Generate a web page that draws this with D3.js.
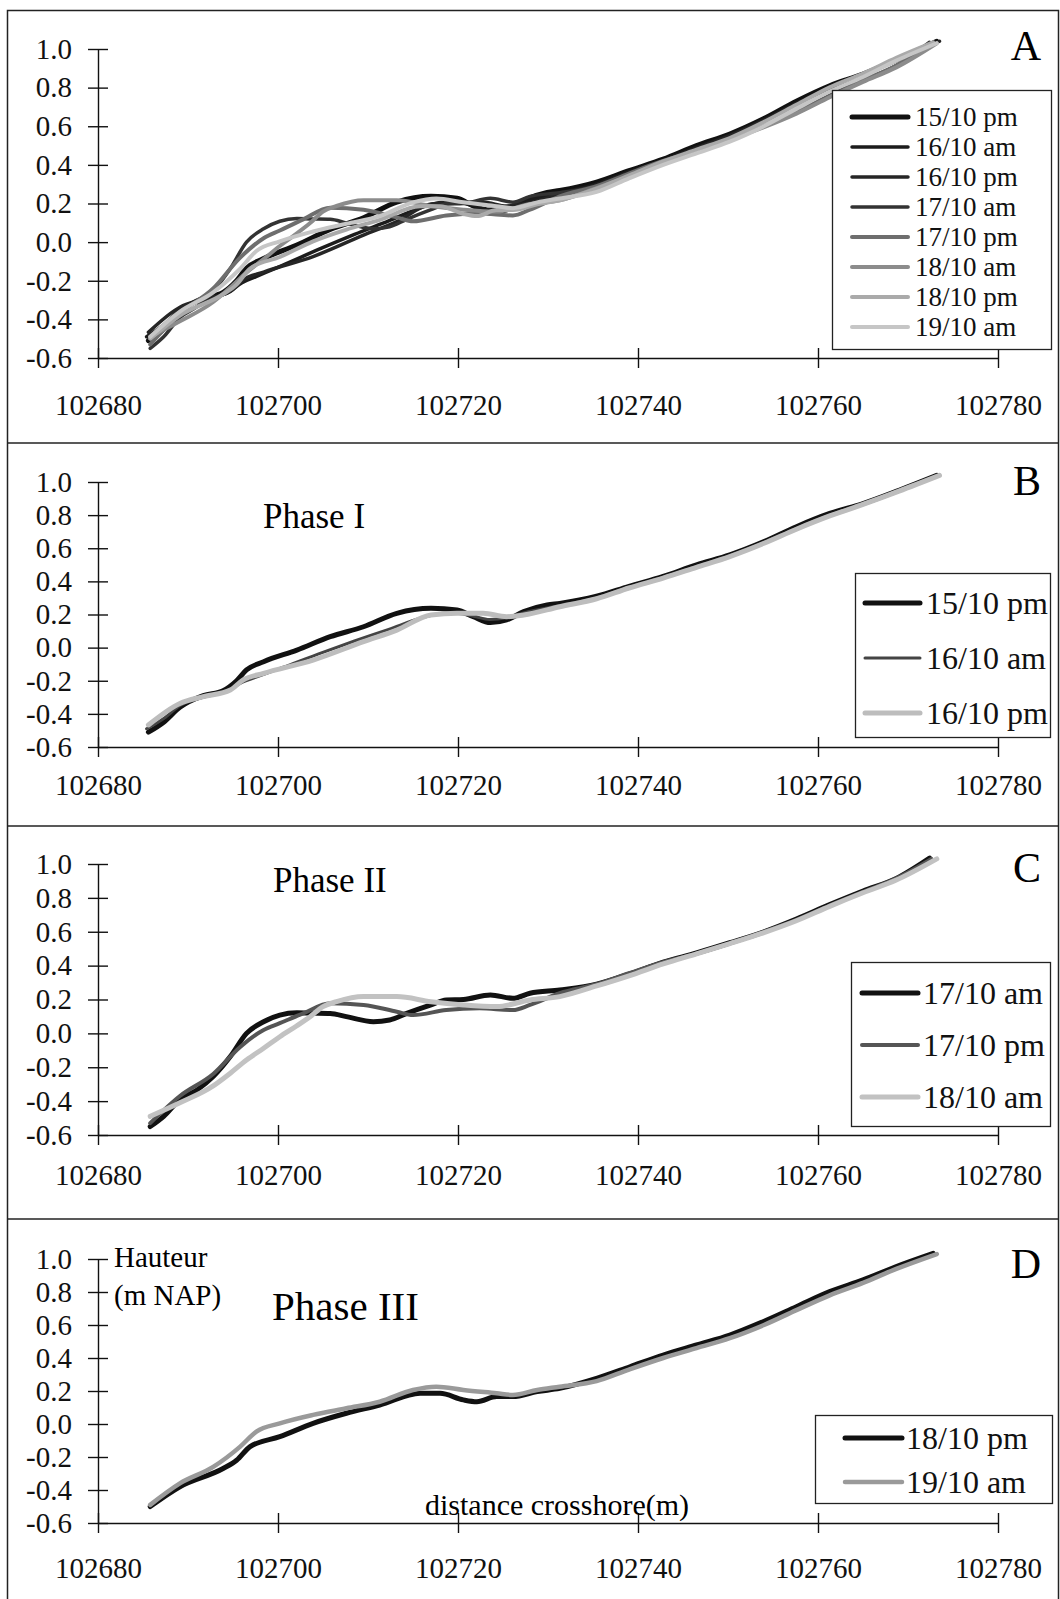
<!DOCTYPE html>
<html>
<head>
<meta charset="utf-8">
<script src="https://cdn.jsdelivr.net/npm/d3@7"></script>
<style>
  body { margin: 0; background: #fff; }
  svg { display: block; font-family: "Liberation Serif", "Times New Roman", serif; }
  .axis path, .axis line { stroke: #111; stroke-width: 1.4px; }
  .axis text { fill: #111; font-size: 29px; font-family: "Liberation Serif", serif; }
  .legend text { fill: #111; }
</style>
</head>
<body>
<script>
var width = 1060,
    height = 1599;

// tick values
var xTicks = [102680, 102700, 102720, 102740, 102760, 102780];
var yTicks = [-0.6, -0.4, -0.2, 0.0, 0.2, 0.4, 0.6, 0.8, 1.0];

// profiles: [distance crosshore (m), hauteur (m NAP)]
var p15pm = [[102685.6,-0.51],[102687.3,-0.45],[102689.1,-0.36],[102691.7,-0.29],[102693.9,-0.26],[102695.4,-0.20],
  [102696.5,-0.135],[102698.4,-0.085],[102702.1,-0.015],[102705.8,0.066],[102709.5,0.126],[102713.2,0.207],
  [102717,0.237],[102719.9,0.227],[102721.7,0.187],[102723.6,0.151],[102725.4,0.167],[102727.3,0.217],
  [102729.9,0.257],[102731.3,0.267],[102735.4,0.31],[102739,0.37],[102742.8,0.43],[102746.5,0.50],
  [102750.2,0.56],[102754,0.64],[102757.6,0.73],[102761.3,0.81],[102765,0.87],[102769,0.95],[102773.2,1.04]];

var p16am = [[102685.4,-0.49],[102687.5,-0.42],[102689.1,-0.35],[102691.7,-0.30],[102694.5,-0.26],[102696,-0.21],
  [102697.5,-0.18],[102700.5,-0.12],[102704.9,-0.03],[102708.5,0.04],[102712.3,0.11],[102716,0.18],
  [102719,0.21],[102721.7,0.19],[102723.5,0.17],[102725.4,0.18],[102727.3,0.21],[102731.3,0.255],
  [102735.4,0.30],[102739,0.365],[102742.8,0.425],[102746.5,0.49],[102750.2,0.555],[102754,0.635],
  [102757.6,0.72],[102761.3,0.80],[102765,0.87],[102769,0.95],[102773.2,1.035]];

var p16pm = [[102685.6,-0.467],[102689.1,-0.337],[102691.7,-0.296],[102694.7,-0.256],[102696.1,-0.196],
  [102698.4,-0.155],[102703.9,-0.075],[102709.5,0.036],[102713.2,0.106],[102717,0.197],[102719.9,0.207],
  [102722.8,0.207],[102725.4,0.187],[102727.3,0.197],[102731.3,0.247],[102735.4,0.295],[102739,0.36],
  [102742.8,0.42],[102746.5,0.485],[102750.2,0.55],[102754,0.63],[102757.6,0.715],[102761.3,0.795],
  [102765,0.865],[102769,0.945],[102773.5,1.04]];

var p17am = [[102685.8,-0.55],[102687.3,-0.49],[102689.1,-0.39],[102691,-0.334],[102692.8,-0.255],[102694.7,-0.137],
  [102696.5,0.0],[102698.4,0.069],[102700.2,0.108],[102702.1,0.122],[102703.6,0.12],[102705.8,0.118],
  [102707.6,0.099],[102710.6,0.069],[102712.4,0.079],[102714.3,0.118],[102717,0.168],[102718.7,0.197],
  [102720.6,0.2],[102723.6,0.227],[102726.1,0.207],[102728,0.237],[102731.3,0.256],[102735.4,0.29],
  [102739,0.35],[102742.8,0.42],[102746.5,0.475],[102750.2,0.535],[102754,0.60],[102757.6,0.675],
  [102761.3,0.76],[102765,0.84],[102768.7,0.915],[102772.4,1.035]];

var p17pm = [[102685.8,-0.53],[102689.1,-0.37],[102692.8,-0.24],[102695.8,-0.08],[102698.4,0.02],[102700.2,0.06],
  [102702.8,0.118],[102705.8,0.178],[102709.5,0.168],[102713.2,0.128],[102715,0.108],[102718.7,0.138],
  [102722.4,0.148],[102726.1,0.138],[102728,0.168],[102731.3,0.237],[102735.4,0.29],[102739,0.355],
  [102742.8,0.42],[102746.5,0.47],[102750.2,0.53],[102754,0.60],[102757.6,0.67],[102761.3,0.755],
  [102765,0.835],[102768.7,0.915],[102772.6,1.03]];

var p18am = [[102685.8,-0.49],[102689.1,-0.41],[102692.8,-0.31],[102694.7,-0.235],[102696.5,-0.157],[102698.4,-0.088],
  [102700.2,-0.02],[102702.1,0.045],[102703.6,0.10],[102705,0.158],[102706.5,0.187],[102709.5,0.217],
  [102713.2,0.217],[102717,0.187],[102720.6,0.168],[102724.3,0.158],[102728,0.197],[102731.3,0.217],
  [102735.4,0.28],[102739,0.34],[102742.8,0.41],[102746.5,0.47],[102750.2,0.53],[102754,0.595],
  [102757.6,0.665],[102761.3,0.75],[102765,0.83],[102768.7,0.905],[102773.2,1.03]];

var p18pm = [[102685.8,-0.50],[102689.1,-0.38],[102693.9,-0.27],[102695.4,-0.22],[102696.9,-0.137],[102700.2,-0.077],
  [102703.9,0.004],[102707.6,0.065],[102711.3,0.115],[102715.8,0.186],[102718,0.186],[102720.6,0.146],
  [102722.1,0.135],[102724.3,0.166],[102726.1,0.166],[102728.8,0.196],[102731.3,0.216],[102735.4,0.277],
  [102739.1,0.347],[102742.8,0.418],[102746.5,0.479],[102750.2,0.539],[102753.9,0.62],[102757.6,0.711],
  [102761.3,0.802],[102765,0.873],[102768.7,0.954],[102772.8,1.034]];

var p19am = [[102685.8,-0.49],[102689.1,-0.36],[102692.8,-0.26],[102695.8,-0.137],[102697.6,-0.046],[102700.2,0.004],
  [102703.9,0.055],[102707.6,0.095],[102711.3,0.135],[102715,0.206],[102717.6,0.226],[102720.6,0.206],
  [102724.3,0.186],[102726.1,0.176],[102728.8,0.206],[102731.3,0.226],[102735.4,0.26],[102739,0.33],
  [102742.8,0.40],[102746.5,0.46],[102750.2,0.52],[102754,0.60],[102757.6,0.69],[102761.3,0.78],
  [102765,0.855],[102768.7,0.94],[102773.2,1.03]];

var profiles = {
  "15/10 pm": p15pm, "16/10 am": p16am, "16/10 pm": p16pm, "17/10 am": p17am,
  "17/10 pm": p17pm, "18/10 am": p18am, "18/10 pm": p18pm, "19/10 am": p19am
};

var seriesA = ["15/10 pm", "16/10 am", "16/10 pm", "17/10 am", "17/10 pm", "18/10 am", "18/10 pm", "19/10 am"];
var seriesB = ["15/10 pm", "16/10 am", "16/10 pm"];
var seriesC = ["17/10 am", "17/10 pm", "18/10 am"];
var seriesD = ["18/10 pm", "19/10 am"];

// layout of the four stacked panels
var panels = [
  {letter: "A", top: 49, bottom: 358, letterY: 60, xLabelDy: 57, series: seriesA,
   colors: ["#111", "#1c1c1c", "#262626", "#333", "#6e6e6e", "#8c8c8c", "#aaaaaa", "#c6c6c6"],
   widths: [5, 3.5, 3.5, 3.5, 4, 4, 4, 4],
   legend: {x: 832, y: 90, w: 219, h: 259, row0: 117, step: 30, lx0: 852, lx1: 908, tx: 915, size: 27}},
  {letter: "B", top: 482, bottom: 747, letterY: 495, xLabelDy: 48, series: seriesB,
   colors: ["#111", "#444", "#bdbdbd"], widths: [5, 3, 5],
   legend: {x: 855, y: 573, w: 195, h: 164, row0: 603, step: 55, lx0: 865, lx1: 920, tx: 926, size: 32},
   note: {text: "Phase I", x: 263, y: 528, size: 35}},
  {letter: "C", top: 864, bottom: 1135, letterY: 882, xLabelDy: 50, series: seriesC,
   colors: ["#111", "#555", "#c2c2c2"], widths: [5, 4, 5],
   legend: {x: 851, y: 962, w: 199, h: 164, row0: 993, step: 52, lx0: 862, lx1: 918, tx: 923, size: 32},
   note: {text: "Phase II", x: 273, y: 892, size: 35}},
  {letter: "D", top: 1259, bottom: 1523, letterY: 1278, xLabelDy: 55, series: seriesD,
   colors: ["#111", "#9a9a9a"], widths: [5, 4.5],
   legend: {x: 815, y: 1415, w: 237, h: 88, row0: 1438, step: 44, lx0: 845, lx1: 902, tx: 906, size: 32},
   note: {text: "Phase III", x: 272, y: 1320, size: 41}}
];

var svg = d3.select("body").append("svg")
    .attr("width", width)
    .attr("height", height);

// frame and panel separators
svg.append("rect")
    .attr("x", 7.5).attr("y", 10.5)
    .attr("width", 1051).attr("height", 1590)
    .attr("fill", "none").attr("stroke", "#222").attr("stroke-width", 1.5);

[443, 826, 1219].forEach(function(yy) {
  svg.append("line")
    .attr("x1", 7).attr("x2", 1059)
    .attr("y1", yy).attr("y2", yy)
    .attr("stroke", "#222").attr("stroke-width", 1.5);
});

var x = d3.scaleLinear()
    .domain([102680, 102780])
    .range([98, 998]);

panels.forEach(drawPanel);

function drawPanel(p) {
  var g = svg.append("g");

  var y = d3.scaleLinear()
      .domain([-0.6, 1.0])
      .range([p.bottom, p.top]);

  // y axis with crossing ticks
  var yAxis = g.append("g")
      .attr("class", "axis")
      .attr("transform", "translate(98,0)")
      .call(d3.axisLeft(y).tickValues(yTicks).tickSize(0).tickSizeOuter(0).tickPadding(26)
        .tickFormat(function(d) { return d.toFixed(1); }));
  yAxis.selectAll(".tick").append("line").attr("x1", -10).attr("x2", 10);

  // x axis
  var xAxis = g.append("g")
      .attr("class", "axis")
      .attr("transform", "translate(0," + p.bottom + ")")
      .call(d3.axisBottom(x).tickValues(xTicks).tickSize(0).tickSizeOuter(0)
        .tickFormat(function(d) { return d; }));
  xAxis.selectAll(".tick").append("line").attr("y1", -10).attr("y2", 10);
  xAxis.selectAll(".tick text").attr("dy", null).attr("y", p.xLabelDy);

  var line = d3.line()
      .curve(d3.curveMonotoneX)
      .x(function(d) { return x(d[0]); })
      .y(function(d) { return y(d[1]); });

  g.selectAll(".profile")
    .data(p.series)
    .enter().append("path")
    .attr("class", "profile")
    .attr("d", function(name) { return line(profiles[name]); })
    .attr("fill", "none")
    .attr("stroke", function(name, i) { return p.colors[i]; })
    .attr("stroke-width", function(name, i) { return p.widths[i]; })
    .attr("stroke-linejoin", "round")
    .attr("stroke-linecap", "round");

  // panel letter
  g.append("text")
    .attr("x", 1041).attr("y", p.letterY)
    .attr("text-anchor", "end")
    .attr("font-size", 42)
    .text(p.letter);

  if (p.note) {
    g.append("text")
      .attr("x", p.note.x).attr("y", p.note.y)
      .attr("font-size", p.note.size)
      .text(p.note.text);
  }

  // legend
  var L = p.legend;
  var leg = g.append("g").attr("class", "legend");
  leg.append("rect")
    .attr("x", L.x + 0.5).attr("y", L.y + 0.5)
    .attr("width", L.w).attr("height", L.h)
    .attr("fill", "#fff").attr("stroke", "#222").attr("stroke-width", 1.3);

  var rows = leg.selectAll(".row")
    .data(p.series)
    .enter().append("g")
    .attr("class", "row")
    .attr("transform", function(d, i) { return "translate(0," + (L.row0 + i * L.step) + ")"; });

  rows.append("line")
    .attr("x1", L.lx0).attr("x2", L.lx1)
    .attr("stroke", function(d, i) { return p.colors[i]; })
    .attr("stroke-width", function(d, i) { return p.widths[i]; })
    .attr("stroke-linecap", "round");

  rows.append("text")
    .attr("x", L.tx).attr("y", Math.round(L.size * 0.34))
    .attr("font-size", L.size)
    .text(function(d) { return d; });
}

// axis titles (drawn in the last panel only, as in the original)
svg.append("text")
    .attr("x", 114).attr("y", 1267)
    .attr("font-size", 29)
    .text("Hauteur");
svg.append("text")
    .attr("x", 114).attr("y", 1305)
    .attr("font-size", 29)
    .text("(m NAP)");
svg.append("text")
    .attr("x", 425).attr("y", 1515)
    .attr("font-size", 30)
    .text("distance crosshore(m)");
</script>
</body>
</html>
